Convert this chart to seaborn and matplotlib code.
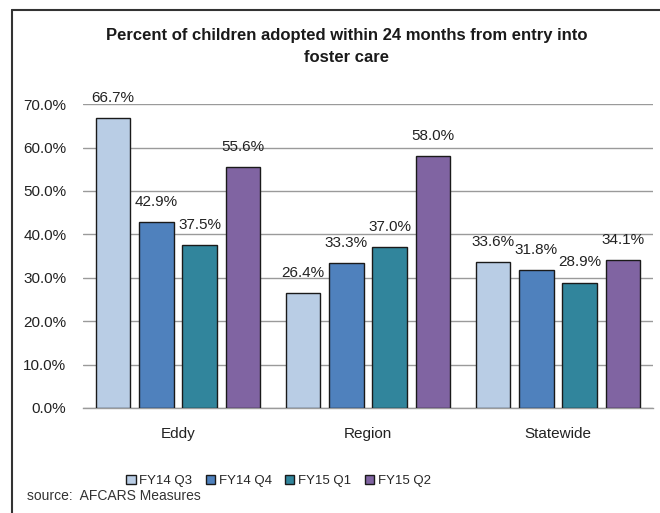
import matplotlib
matplotlib.use("Agg")
import matplotlib.pyplot as plt
from matplotlib.lines import Line2D
import seaborn as sns
import pandas as pd

categories = ["Eddy", "Region", "Statewide"]
series = ["FY14 Q3", "FY14 Q4", "FY15 Q1", "FY15 Q2"]
fy14_q3 = [66.7, 26.4, 33.6]
fy14_q4 = [42.9, 33.3, 31.8]
fy15_q1 = [37.5, 37.0, 28.9]
fy15_q2 = [55.6, 58.0, 34.1]
colors = ["#B9CDE5", "#4F81BD", "#31859C", "#8064A2"]
yticks = [0, 10, 20, 30, 40, 50, 60, 70]

values = [fy14_q3, fy14_q4, fy15_q1, fy15_q2]
rows = []
for s, vals in zip(series, values):
    for c, v in zip(categories, vals):
        rows.append({"category": c, "series": s, "value": v})
df = pd.DataFrame(rows)

sns.set_theme(style="white")
plt.rcParams["font.family"] = ["Liberation Sans Narrow", "Liberation Sans", "DejaVu Sans"]

fig = plt.figure(figsize=(6.6, 5.13), dpi=100)
ax = fig.add_axes([0.1258, 0.2047, 0.8636, 0.5923])

sns.barplot(data=df, x="category", y="value", hue="series", order=categories,
            hue_order=series, palette=colors, saturation=1, width=0.91, gap=0.2,
            edgecolor="#1a1a1a", linewidth=1.0, ax=ax, legend=True, zorder=3)

ax.set_ylim(0, 70)
ax.set_yticks(yticks)
ax.set_yticklabels([f"{t:.1f}%" for t in yticks], fontsize=11, color="#222222")
ax.set_xlabel("")
ax.set_ylabel("")
ax.tick_params(axis="x", labelsize=11, colors="#222222", pad=14, length=0)
ax.tick_params(axis="y", pad=12, length=0)
ax.yaxis.grid(True, color="#9a9a9a", linewidth=1.0, zorder=0)
ax.set_axisbelow(True)
for side in ["top", "right", "left"]:
    ax.spines[side].set_visible(False)
ax.spines["bottom"].set_color("#9a9a9a")
ax.spines["bottom"].set_linewidth(1.0)

for container in ax.containers:
    for bar in container:
        h = bar.get_height()
        ax.annotate(f"{h:.1f}%", (bar.get_x() + bar.get_width() / 2, h),
                    xytext=(0, 14.5), textcoords="offset points",
                    ha="center", va="center", fontsize=11, color="#222222")

ax.get_legend().remove()
handles, labels = ax.get_legend_handles_labels()
leg = fig.legend(handles, labels, loc="center", bbox_to_anchor=(0.422, 0.062), ncol=4,
                 frameon=False, fontsize=9.5, handlelength=0.7, handleheight=0.7,
                 handletextpad=0.3, columnspacing=1.0)
for h in leg.legend_handles:
    h.set_edgecolor("#1a1a1a")
    h.set_linewidth(1.0)

fig.text(0.525, 0.91, "Percent of children adopted within 24 months from entry into\nfoster care",
         ha="center", va="center", fontsize=12, fontweight="bold", color="#1a1a1a",
         linespacing=1.6)
fig.text(0.041, 0.033, "source:  AFCARS Measures", ha="left", va="center",
         fontsize=10, color="#333333")

fig.add_artist(Line2D([0.018, 1.0], [0.981, 0.981], transform=fig.transFigure,
                      color="#333333", linewidth=1.5))
fig.add_artist(Line2D([0.018, 0.018], [0.0, 0.981], transform=fig.transFigure,
                      color="#333333", linewidth=1.5))

fig.savefig("out.png", dpi=100)
